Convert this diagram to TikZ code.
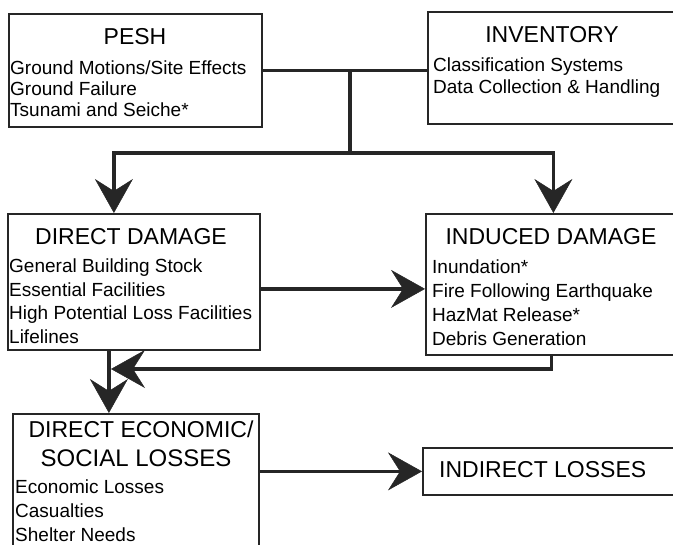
\documentclass[tikz,border=0pt]{standalone}
\usepackage{fontspec}
\setmainfont{Liberation Sans}
\usetikzlibrary{arrows.meta}

\tikzstyle{block} = [draw=black!85, line width=1.8pt, rectangle, inner sep=0pt, anchor=north west]
\tikzstyle{heading} = [inner sep=0pt, anchor=base, font=\fontsize{23}{23}\selectfont]
\tikzstyle{entry} = [inner sep=0pt, anchor=base west, font=\fontsize{19}{19}\selectfont]
\tikzstyle{link} = [draw=black!85, line width=3.5pt]
\tikzstyle{flow} = [link, -{Stealth[length=34pt, width=38pt, inset=12pt, line width=0.5pt]}]

\begin{document}
\begin{tikzpicture}[x=1pt,y=-1pt]
            \useasboundingbox (0,0) rectangle (673,545);
            %
            % First the boxes, top row to bottom row
            \node [block, minimum width=253pt, minimum height=113pt] (pesh) at (8,13) {};
            \node [block, minimum width=253pt, minimum height=112pt] (inventory) at (427,11) {};
            \node [block, minimum width=252pt, minimum height=136pt] (direct) at (7,213) {};
            \node [block, minimum width=255pt, minimum height=141pt] (induced) at (425,213) {};
            \node [block, minimum width=246pt, minimum height=150pt] (econ) at (12,413) {};
            \node [block, minimum width=260pt, minimum height=47pt] (indirect) at (422,447) {};
            %
            % Box headings
            \node [heading] (pesh-title) at (135,45) {PESH};
            \node [heading] (inventory-title) at (552,43) {INVENTORY};
            \node [heading] (direct-title) at (131,245) {DIRECT DAMAGE};
            \node [heading] (induced-title) at (551,245) {INDUCED DAMAGE};
            \node [heading] (econ-title) at (141,438) {DIRECT ECONOMIC/};
            \node [heading, font=\fontsize{24}{24}\selectfont] (econ-title2) at (136,467) {SOCIAL LOSSES};
            \node [heading, anchor=base west] (indirect-title) at (439,478) {INDIRECT LOSSES};
            %
            % The lists under each heading
            \foreach \t [count=\i] in {Ground Motions/Site Effects, Ground Failure, Tsunami and Seiche*}
                \node [entry] (pesh-\i) at (10,54+21*\i) {\t};
            \foreach \t [count=\i] in {Classification Systems, Data Collection \& Handling}
                \node [entry] (inventory-\i) at (433,50+22*\i) {\t};
            \foreach \t [count=\i] in {General Building Stock, Essential Facilities, High Potential Loss Facilities, Lifelines}
                \node [entry] (direct-\i) at (9,249.5+23.5*\i) {\t};
            \foreach \t [count=\i] in {Inundation*, Fire Following Earthquake, HazMat Release*, Debris Generation}
                \node [entry] (induced-\i) at (432,250+24*\i) {\t};
            \foreach \t [count=\i] in {Economic Losses, Casualties, Shelter Needs}
                \node [entry] (econ-\i) at (15,470+24*\i) {\t};
            %
            % Now the connectors
            \coordinate (fork) at (350,153);
            \coordinate (merge) at (111,369);
            \coordinate (damage-out) at ([yshift=-7pt]direct.east);
            \coordinate (damage-down) at ([xshift=-25pt]direct.south);
            \draw [link] (pesh.east) -- (inventory.west |- pesh.east);
            \draw [link] (fork |- pesh.east) -- (fork);
            \draw [flow] (fork) -| ([xshift=-20pt]direct.north);
            \draw [flow] (fork) -| (induced.north);
            \draw [flow] (damage-out) -- (induced.west |- damage-out);
            \draw [flow] ([xshift=-2pt]induced.south) |- (merge);
            \draw [flow] (damage-down) -- (damage-down |- econ.north);
            \draw [flow] (econ.east |- indirect.west) -- (indirect.west);
            %
        \end{tikzpicture}
\end{document}
